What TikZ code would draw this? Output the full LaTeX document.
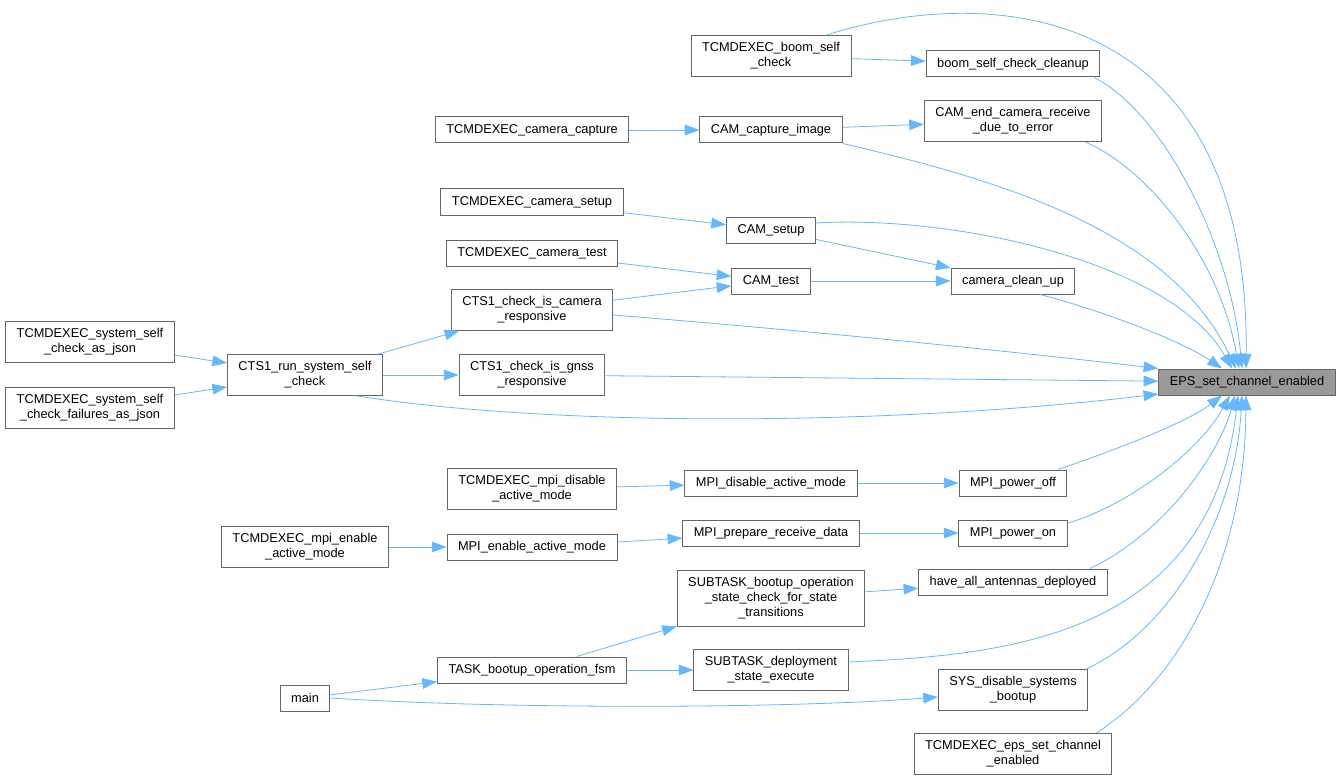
\documentclass[tikz,border=0pt]{standalone}
\usepackage{fontspec}
\setmainfont{Liberation Sans}
\usetikzlibrary{arrows.meta,calc}
\definecolor{edgeblue}{HTML}{63B8FF}
\definecolor{boxline}{HTML}{666666}
\definecolor{boxfill}{HTML}{999999}
\newcommand{\fnfont}{\fontsize{9.6}{11.25}\selectfont}
\begin{document}
\begin{tikzpicture}[x=0.75pt,y=-0.75pt,
	fn/.style={draw=boxline,fill=white,line width=0.75pt,font=\fnfont,align=center,inner xsep=8.25pt,inner ysep=1pt,minimum height=19.5pt},
	two/.style={minimum height=30.5pt},
	three/.style={minimum height=42pt},
	call/.style={draw=edgeblue,line width=0.6pt,-{Triangle[length=11pt,width=8pt]}}]
	\useasboundingbox (0,0) rectangle (1342,781);
	% target
	\node[fn,fill=boxfill] (eps) at (1247,382) {EPS\_set\_channel\_enabled};
	% callers
	\node[fn,two] (boomcheck) at (771,56) {TCMDEXEC\_boom\_self\\\_check};
	\node[fn] (boomclean) at (1013,64) {boom\_self\_check\_cleanup};
	\node[fn] (tccapture) at (532,130) {TCMDEXEC\_camera\_capture};
	\node[fn] (camcapture) at (771,130) {CAM\_capture\_image};
	\node[fn,two] (camend) at (1013,121) {CAM\_end\_camera\_receive\\\_due\_to\_error};
	\node[fn] (tcsetup) at (532,202) {TCMDEXEC\_camera\_setup};
	\node[fn] (camsetup) at (771,230) {CAM\_setup};
	\node[fn] (tctest) at (532,253) {TCMDEXEC\_camera\_test};
	\node[fn] (camtest) at (771,281) {CAM\_test};
	\node[fn] (cleanup) at (1013,281) {camera\_clean\_up};
	\node[fn,two] (ctscam) at (532,310) {CTS1\_check\_is\_camera\\\_responsive};
	\node[fn,two] (ctsgnss) at (532,375) {CTS1\_check\_is\_gnss\\\_responsive};
	\node[fn,two] (ctsrun) at (305,375) {CTS1\_run\_system\_self\\\_check};
	\node[fn,two] (tcjson) at (90,342) {TCMDEXEC\_system\_self\\\_check\_as\_json};
	\node[fn,two] (tcfail) at (90,408) {TCMDEXEC\_system\_self\\\_check\_failures\_as\_json};
	\node[fn,two] (tcmpidis) at (532,489) {TCMDEXEC\_mpi\_disable\\\_active\_mode};
	\node[fn] (mpidis) at (771,483) {MPI\_disable\_active\_mode};
	\node[fn] (poweroff) at (1013,483) {MPI\_power\_off};
	\node[fn,two] (tcmpien) at (305,547) {TCMDEXEC\_mpi\_enable\\\_active\_mode};
	\node[fn] (mpien) at (532,547) {MPI\_enable\_active\_mode};
	\node[fn] (mpiprep) at (771,533) {MPI\_prepare\_receive\_data};
	\node[fn] (poweron) at (1013,533) {MPI\_power\_on};
	\node[fn,three] (subboot) at (771,598) {SUBTASK\_bootup\_operation\\\_state\_check\_for\_state\\\_transitions};
	\node[fn] (haveall) at (1013,582) {have\_all\_antennas\_deployed};
	\node[fn] (taskboot) at (532,670) {TASK\_bootup\_operation\_fsm};
	\node[fn,two] (subdeploy) at (771,670) {SUBTASK\_deployment\\\_state\_execute};
	\node[fn] (main) at (305,698) {main};
	\node[fn,two] (sysdis) at (1013,690) {SYS\_disable\_systems\\\_bootup};
	\node[fn,two] (tceps) at (1013,754) {TCMDEXEC\_eps\_set\_channel\\\_enabled};
	% calls between callers
	\draw[call] (boomcheck) -- (boomclean);
	\draw[call] (tccapture) -- (camcapture);
	\draw[call] (camcapture) -- (camend);
	\draw[call] (tcsetup) -- (camsetup);
	\draw[call] (tctest) -- (camtest);
	\draw[call] (camsetup) -- (cleanup);
	\draw[call] (camtest) -- (cleanup);
	\draw[call] (ctscam) -- (camtest);
	\draw[call] (ctsrun) -- (ctscam);
	\draw[call] (ctsrun) -- (ctsgnss);
	\draw[call] (tcjson) -- (ctsrun);
	\draw[call] (tcfail) -- (ctsrun);
	\draw[call] (tcmpidis) -- (mpidis);
	\draw[call] (mpidis) -- (poweroff);
	\draw[call] (tcmpien) -- (mpien);
	\draw[call] (mpien) -- (mpiprep);
	\draw[call] (mpiprep) -- (poweron);
	\draw[call] (subboot) -- (haveall);
	\draw[call] (taskboot) -- (subboot);
	\draw[call] (taskboot) -- (subdeploy);
	\draw[call] (main) -- (taskboot);
	\draw[call] (main.east) .. controls (520,710) and (800,708) .. ($(sysdis.west)+(0,7)$);
	% calls into the target, from above
	\draw[call] ($(boomcheck.north)+(55,0)$) .. controls (1000,-20) and (1250,10) .. ($(eps.north)+(-1,0)$);
	\draw[call] ($(boomclean.south)+(81,0)$) .. controls (1160,110) and (1230,240) .. ($(eps.north)+(-5,0)$);
	\draw[call] ($(camend.south)+(72,0)$) .. controls (1150,170) and (1220,260) .. ($(eps.north)+(-8,0)$);
	\draw[call] (camcapture.south east) .. controls (1000,180) and (1170,230) .. ($(eps.north)+(-11,0)$);
	\draw[call] ($(camsetup.east)+(0,-7)$) .. controls (950,215) and (1170,260) .. ($(eps.north)+(-15,0)$);
	\draw[call] ($(cleanup.south)+(27,0)$) .. controls (1100,310) and (1180,340) .. ($(eps.north)+(-25,0)$);
	% from the left
	\draw[call] ($(ctscam.east)+(0,5)$) .. controls (800,330) and (1000,350) .. (eps.north west);
	\draw[call] (ctsgnss) -- (eps);
	\draw[call] ($(ctsrun.south)+(51,0)$) .. controls (560,428) and (900,425) .. ($(eps.west)+(0,12)$);
	% from below
	\draw[call] ($(poweroff.north)+(45,0)$) .. controls (1130,445) and (1190,420) .. ($(eps.south)+(-25,0)$);
	\draw[call] ($(poweron.east)+(0,-10)$) .. controls (1130,505) and (1200,450) .. ($(eps.south)+(-17,0)$);
	\draw[call] ($(haveall.north)+(77,0)$) .. controls (1170,530) and (1220,450) .. ($(eps.south)+(-12,0)$);
	\draw[call] ($(subdeploy.east)+(0,-8)$) .. controls (1000,655) and (1210,640) .. ($(eps.south)+(-9,0)$);
	\draw[call] ($(sysdis.north)+(73,0)$) .. controls (1170,630) and (1235,520) .. ($(eps.south)+(-5,0)$);
	\draw[call] ($(tceps.north)+(83,0)$) .. controls (1180,680) and (1245,560) .. ($(eps.south)+(-1,0)$);
\end{tikzpicture}
\end{document}
